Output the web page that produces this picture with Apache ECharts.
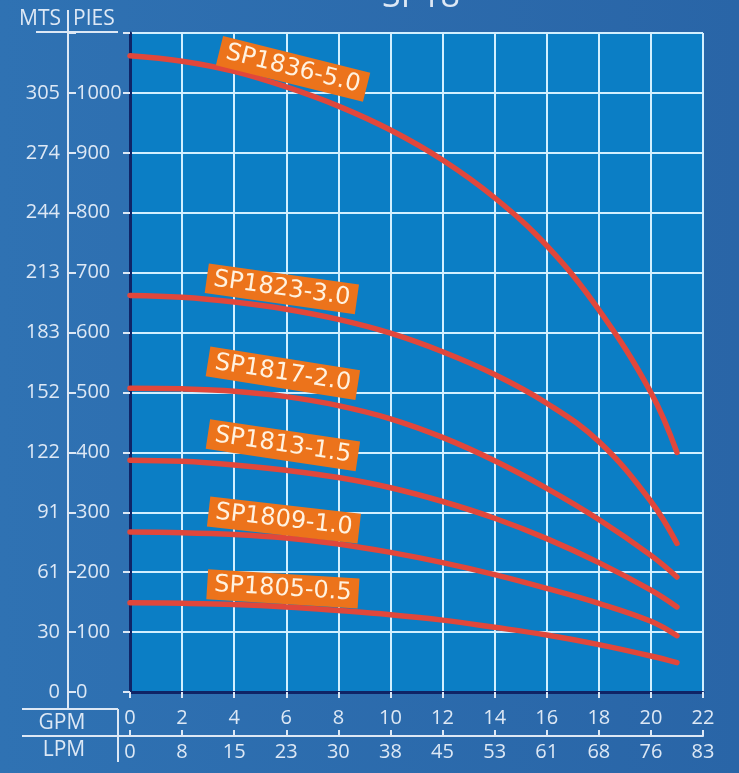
<!DOCTYPE html>
<html><head><meta charset="utf-8">
<script src="https://cdn.jsdelivr.net/npm/echarts@6/dist/echarts.min.js"></script>
<style>html,body{margin:0;padding:0;background:#2b6aab;}#c{width:739px;height:773px;}</style>
</head><body><div id="c"></div>
<script>
// ---- data ----
const gpm = [0, 2, 4, 6, 8, 10, 12, 14, 16, 18, 20, 21];
const sp1836 = [1062, 1053, 1036, 1010, 978, 938, 888, 825, 745, 638, 500, 400];
const sp1823 = [662, 659, 651, 639, 622, 599, 568, 530, 482, 418, 318, 248];
const sp1817 = [507, 506, 502, 493, 478, 456, 425, 386, 340, 288, 228, 192];
const sp1813 = [387, 385, 379, 370, 358, 341, 318, 290, 256, 216, 170, 142];
const sp1809 = [267, 266, 263, 257, 247, 233, 216, 196, 173, 148, 118, 94];
const sp1805 = [149, 148, 146, 142, 136, 129, 120, 108, 95, 79, 60, 49];
const models = ['SP1836-5.0', 'SP1823-3.0', 'SP1817-2.0', 'SP1813-1.5', 'SP1809-1.0', 'SP1805-0.5'];
const curves = [sp1836, sp1823, sp1817, sp1813, sp1809, sp1805];
// label anchor (in GPM / feet)
const labelGpm = [6.26, 5.83, 5.87, 5.87, 5.91, 5.87];
const labelFt = [1040, 673, 532, 412, 287, 172];
const lpmLabels = ['0', '8', '15', '23', '30', '38', '45', '53', '61', '68', '76', '83'];
const mtsLabels = ['0', '30', '61', '91', '122', '152', '183', '213', '244', '274', '305'];
const piesMax = 1000;
const title = 'SP18';

// ---- style ----
const labelAngles = [-14, -8, -9, -8.5, -6.5, -3.5];
const TXT = '#dde8f5';
const GRIDLINE = '#d2efff';
const NAVY = '#0f2466';
const CURVE = '#e1473b';
const FONT = 'Open Sans';

const chart = echarts.init(document.getElementById('c'), null, {renderer: 'canvas'});

const lineSeries = curves.map((arr, k) => ({
  name: models[k], type: 'line', xAxisIndex: 0, yAxisIndex: 0,
  smooth: 0.4, symbol: 'none', showSymbol: false, z: 3,
  lineStyle: {color: CURVE, width: 5.5, cap: 'round'},
  data: gpm.map((g, i) => [g, arr[i]])
}));

const labelSeries = {
  type: 'scatter', xAxisIndex: 0, yAxisIndex: 0, symbolSize: 0, z: 4, silent: true,
  itemStyle: {opacity: 1},
  data: models.map((m, k) => ({
    value: [labelGpm[k], labelFt[k]], name: m,
    label: {rotate: labelAngles[k]}
  })),
  label: {
    show: true, position: 'inside', formatter: p => p.name, opacity: 1,
    backgroundColor: '#ec731b', color: '#fff2e0', padding: [3, 7],
    fontSize: 24, fontFamily: 'DejaVu Sans', align: 'center', verticalAlign: 'middle'
  }
};

const ln = (x1, y1, x2, y2) => ({type: 'line', shape: {x1, y1, x2, y2}, style: {stroke: TXT, lineWidth: 2}, z: 10});
const tx = (text, x, y, align, size) => ({type: 'text', x, y, style: {text, fill: TXT, fontSize: size, fontFamily: FONT, align, verticalAlign: 'middle'}, z: 10});

chart.setOption({
  backgroundColor: {
    type: 'linear', x: 0, y: 0, x2: 1, y2: 0,
    colorStops: [{offset: 0, color: '#2f72b3'}, {offset: 1, color: '#2965a7'}]
  },
  animation: false,
  grid: {left: 130, top: 33, right: 36, bottom: 81, show: true, backgroundColor: '#0b7ec5', borderWidth: 0},
  xAxis: [
    {type: 'value', min: 0, max: 22, interval: 2, position: 'bottom',
     axisLine: {show: true, onZero: false, lineStyle: {color: NAVY, width: 3}},
     axisTick: {show: false}, axisLabel: {show: false},
     splitLine: {show: true, lineStyle: {color: GRIDLINE, width: 2}}},
    {type: 'value', min: 0, max: 22, interval: 2, position: 'bottom', offset: 44,
     axisLine: {show: true, onZero: false, lineStyle: {color: TXT, width: 2}},
     axisTick: {show: true, inside: true, length: 6, lineStyle: {color: TXT, width: 2}},
     axisLabel: {show: true, inside: true, margin: 8, color: TXT, fontSize: 20, fontFamily: FONT,
                 showMinLabel: true, showMaxLabel: true, hideOverlap: false},
     splitLine: {show: false}},
    {type: 'value', min: 0, max: 22, interval: 2, position: 'bottom', offset: 44,
     axisLine: {show: false},
     axisTick: {show: true, inside: false, length: 6, lineStyle: {color: TXT, width: 2}},
     axisLabel: {show: true, margin: 6, color: TXT, fontSize: 20, fontFamily: FONT,
                 showMinLabel: true, showMaxLabel: true, hideOverlap: false,
                 formatter: v => lpmLabels[Math.round(v / 2)] || ''},
     splitLine: {show: false}}
  ],
  yAxis: [
    {type: 'value', min: 0, max: 1100, interval: 100, position: 'left',
     axisLine: {show: true, onZero: false, lineStyle: {color: NAVY, width: 3}},
     axisTick: {show: false}, axisLabel: {show: false},
     splitLine: {show: true, lineStyle: {color: GRIDLINE, width: 2}}},
    {type: 'value', min: 0, max: 1100, interval: 100, position: 'left', offset: 62,
     axisLine: {show: true, onZero: false, lineStyle: {color: TXT, width: 2}},
     axisTick: {show: true, inside: true, length: 8, lineStyle: {color: TXT, width: 2}},
     axisLabel: {show: true, inside: true, margin: 8, color: TXT, fontSize: 20, fontFamily: FONT,
                 showMinLabel: true, showMaxLabel: true, hideOverlap: false,
                 formatter: v => (v <= piesMax ? String(v) : '')},
     splitLine: {show: false}},
    {type: 'value', min: 0, max: 1100, interval: 100, position: 'left', offset: 62,
     axisLine: {show: false},
     axisTick: {show: true, inside: false, length: 7, lineStyle: {color: TXT, width: 2}},
     axisLabel: {show: true, margin: 8, color: TXT, fontSize: 20, fontFamily: FONT,
                 showMinLabel: true, showMaxLabel: true, hideOverlap: false,
                 formatter: v => mtsLabels[Math.round(v / 100)] || ''},
     splitLine: {show: false}}
  ],
  graphic: [
    {type: 'text', x: 421, y: -3, style: {text: title, fill: TXT, fontSize: 34, fontFamily: FONT, align: 'center', verticalAlign: 'middle'}, z: 10},
    tx('MTS', 61, 19, 'right', 21),
    tx('PIES', 73, 19, 'left', 21),
    ln(36, 32, 118, 32),
    ln(68, 10, 68, 33),
    ln(68, 692, 68, 709),
    ln(22, 709, 118, 709),
    ln(118, 709, 118, 762),
    ln(22, 736, 130, 736),
    tx('GPM', 62, 723, 'center', 21),
    tx('LPM', 64, 750, 'center', 21)
  ],
  series: [...lineSeries, labelSeries]
});
</script></body></html>
